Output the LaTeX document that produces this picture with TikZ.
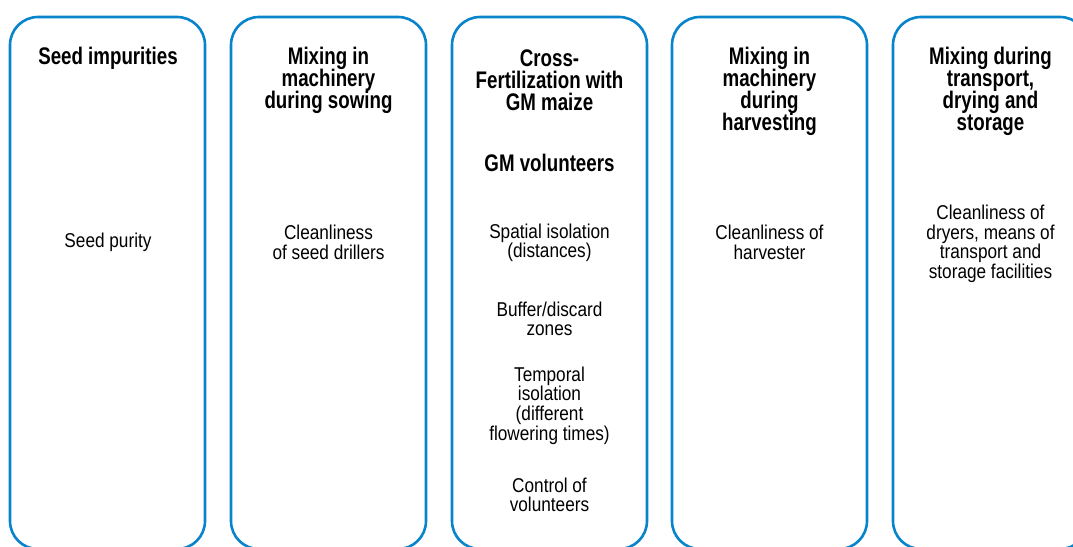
\documentclass[tikz,border=0pt]{standalone}
\usepackage{fontspec}
\setmainfont[FakeStretch=0.86]{Liberation Sans}
\newfontfamily\titlefont[FakeStretch=0.78]{Liberation Sans}
\definecolor{boxblue}{RGB}{8,132,204}
\begin{document}
\begin{tikzpicture}[x=1pt,y=-1pt,
  colbox/.style={draw=boxblue,line width=2.6pt,rounded corners=28pt},
  ttl/.style={font={\titlefont\bfseries\fontsize{24}{22}\selectfont\lineskiplimit=-30pt},align=center,inner sep=0pt},
  bodytxt/.style={font={\fontsize{20}{19.6}\selectfont\lineskiplimit=-30pt},align=center,inner sep=0pt}]
\useasboundingbox (0,0) rectangle (1073,546);
\clip (0,0) rectangle (1073,546);
\fill[white] (0,0) rectangle (1073,546);
% boxes
\draw[colbox] (10,17) rectangle (205,549);
\draw[colbox] (231,17) rectangle (426,549);
\draw[colbox] (452,17) rectangle (647,549);
\draw[colbox] (672,17) rectangle (867,549);
\draw[colbox] (893,17) rectangle (1088,549);
% column 1
\node[ttl] (t1) at (108,58.5) {Seed impurities};
\node[bodytxt] (b1) at (108,242) {Seed purity};
% column 2
\node[ttl] (t2) at (328.5,80) {Mixing in\\machinery\\during sowing};
\node[bodytxt] (b2) at (328.5,242.5) {Cleanliness\\of seed drillers};
% column 3
\node[ttl] (t3) at (549.5,80) {Cross-\\Fertilization with\\GM maize};
\node[ttl] (t3b) at (549.5,163) {GM volunteers};
\node[bodytxt] (b3a) at (549.5,243) {Spatial isolation\\(distances)};
\node[bodytxt] (b3b) at (549.5,319) {Buffer/discard\\zones};
\node[bodytxt] (b3c) at (549.5,405.5) {Temporal\\isolation\\(different\\flowering times)};
\node[bodytxt] (b3d) at (549.5,495) {Control of\\volunteers};
% column 4
\node[ttl] (t4) at (769.5,91) {Mixing in\\machinery\\during\\harvesting};
\node[bodytxt] (b4) at (769.5,242.5) {Cleanliness of\\harvester};
% column 5
\node[ttl] (t5) at (990.5,91) {Mixing during\\transport,\\drying and\\storage};
\node[bodytxt] (b5) at (990.5,244) {Cleanliness of\\dryers, means of\\transport and\\storage facilities};
\end{tikzpicture}
\end{document}
